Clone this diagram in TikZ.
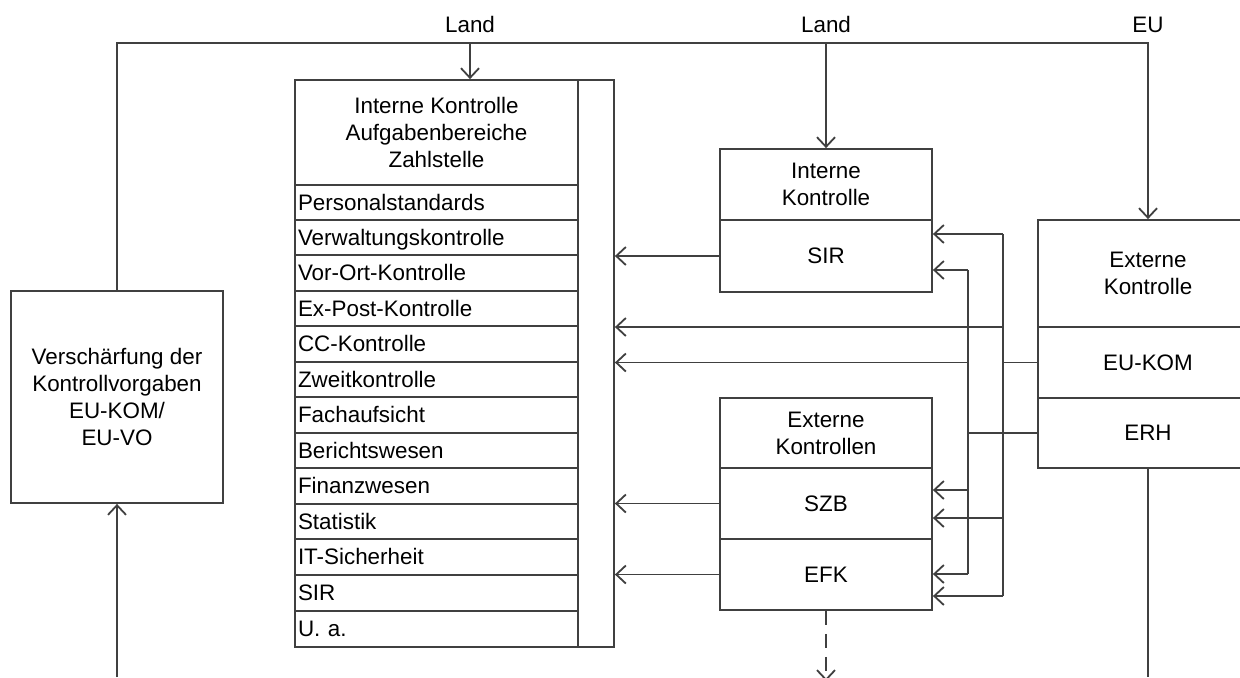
\documentclass[tikz,border=0pt]{standalone}
\usepackage{fontspec}
\setmainfont{Liberation Sans}
\usetikzlibrary{arrows.meta}
\definecolor{ln}{HTML}{404040}
\begin{document}
\begin{tikzpicture}[x=0.5pt,y=-0.5pt,
  every node/.style={font=\fontsize{11.2pt}{13.4pt}\selectfont, text=black},
  bx/.style={draw=ln, line width=0.9pt, rectangle, inner sep=0pt, align=center},
  rowbox/.style={draw=ln, line width=0.9pt, rectangle, inner xsep=1.5pt, inner ysep=0pt,
    text width=138.5pt, align=left, text height=7.95pt, text depth=0pt},
  con/.style={draw=ln, line width=0.9pt},
  arr/.style={con, -{Straight Barb[length=4.8pt,width=9pt,line width=0.9pt]}},
  dsh/.style={arr, dash pattern=on 7pt off 4.5pt},
]
\useasboundingbox (0,0) rectangle (1240,677);
\fill[white] (0,0) rectangle (1240,677);

% labels
\node (land1) at (470,24.5) {Land};
\node (land2) at (826,24.5) {Land};
\node (eu) at (1148,24.5) {EU};

% left box
\node[bx, minimum width=106pt, minimum height=106pt] (vk) at (117,397)
  {Verschärfung der\\Kontrollvorgaben\\EU-KOM/\\EU-VO};

% big box
\node[bx, minimum width=141.5pt, minimum height=52.5pt] (ikh) at (436.5,132.5)
  {Interne Kontrolle\\Aufgabenbereiche\\Zahlstelle};
\foreach \t/\a/\b [count=\i] in {Personalstandards/185/220,Verwaltungskontrolle/220/255,
  Vor-Ort-Kontrolle/255/291,Ex-Post-Kontrolle/291/326,CC-Kontrolle/326/362,
  Zweitkontrolle/362/397,Fachaufsicht/397/433,Berichtswesen/433/468,
  Finanzwesen/468/504,Statistik/504/539,IT-Sicherheit/539/575,SIR/575/611,U. a./611/647}
  \node[rowbox, minimum height={(\b-\a)*0.5pt}] (r\i) at (436.5,{(\a+\b)/2}) {\t};
\node[bx, minimum width=18pt, minimum height=283.5pt] (col) at (596,363.5) {};

% Interne Kontrolle
\node[bx, minimum width=106pt, minimum height=35.5pt] (ikk) at (826,184.5) {Interne\\Kontrolle};
\node[bx, minimum width=106pt, minimum height=36pt] (sirk) at (826,256) {SIR};

% Externe Kontrollen
\node[bx, minimum width=106pt, minimum height=35pt] (ekk) at (826,433) {Externe\\Kontrollen};
\node[bx, minimum width=106pt, minimum height=35.5pt] (szb) at (826,503.5) {SZB};
\node[bx, minimum width=106pt, minimum height=35.5pt] (efk) at (826,574.5) {EFK};

% Externe Kontrolle (right)
\node[bx, minimum width=110pt, minimum height=53.5pt] (exk) at (1148,273.5) {Externe\\Kontrolle};
\node[bx, minimum width=110pt, minimum height=35.5pt] (eukom) at (1148,362.5) {EU-KOM};
\node[bx, minimum width=110pt, minimum height=35pt] (erh) at (1148,433) {ERH};

% top line
\coordinate (tl) at (117,43);
\coordinate (tr) at (1148,43);
\draw[arr] (vk.north) -- (tl) -- (tr) -- (exk.north);
\draw[arr] (land1 |- tl) -- (land1 |- ikh.north);
\draw[arr] (land2 |- tl) -- (ikk.north);

% bottom
\coordinate (bl) at (117,677);
\coordinate (br) at (1148,677);
\coordinate (bm) at (826,681);
\draw[arr] (bl) -- (vk.south);
\draw[con] (erh.south) -- (br);
\draw[dsh] (efk.south) -- (bm);

% internal arrows to column
\draw[arr] (sirk.west) -- (sirk.west -| col.east);
\draw[arr] (szb.west) -- (szb.west -| col.east);
\draw[arr] (efk.west) -- (efk.west -| col.east);

% EU-KOM network (x=1003)
\coordinate (pA) at (1003,234);
\coordinate (pB) at (1003,596);
\coordinate (pK) at (1003,327);
\coordinate (pS) at (1003,518);
\draw[con] (pA) -- (pB);
\draw[con] (eukom.west) -- (eukom.west -| pA);
\draw[arr] (pA) -- (pA -| sirk.east);
\draw[arr] (pS) -- (pS -| szb.east);
\draw[arr] (pB) -- (pB -| efk.east);
\draw[arr] (pK) -- (pK -| col.east);

% ERH network (x=968)
\coordinate (qA) at (968,270);
\coordinate (qB) at (968,574);
\coordinate (qK) at (968,362.5);
\coordinate (qS) at (968,490);
\draw[con] (qA) -- (qB);
\draw[con] (erh.west) -- (erh.west -| qA);
\draw[arr] (qA) -- (qA -| sirk.east);
\draw[arr] (qS) -- (qS -| szb.east);
\draw[arr] (qB) -- (qB -| efk.east);
\draw[arr] (qK) -- (qK -| col.east);
\end{tikzpicture}
\end{document}
